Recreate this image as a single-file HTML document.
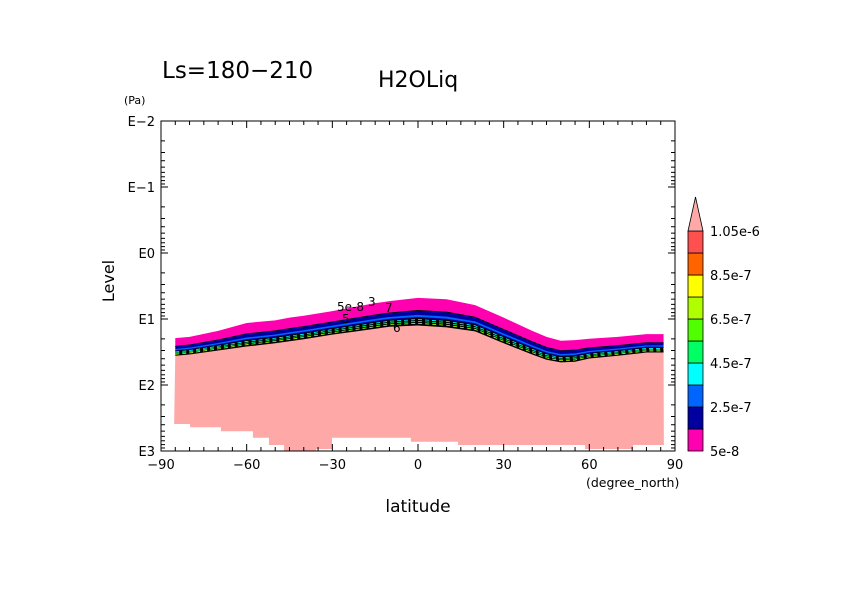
<!DOCTYPE html>
<html><head><meta charset="utf-8"><style>
html,body{margin:0;padding:0;background:#fff;}
svg{display:block;font-family:"DejaVu Sans","Liberation Sans",sans-serif;}
</style></head><body>
<svg id="chart" width="842" height="595" viewBox="0 0 842 595">
<text x="162" y="78" font-size="23">Ls=180−210</text>
<text x="378" y="87" font-size="22">H2OLiq</text>
<text x="124" y="104" font-size="11">(Pa)</text>
<text x="114" y="281" font-size="16" transform="rotate(-90 114 281)" text-anchor="middle">Level</text>
<text x="418" y="512" font-size="17" text-anchor="middle">latitude</text>
<text x="586" y="487" font-size="12.5">(degree_north)</text>
<g id="field"></g>
<g id="axes"></g>
<g id="cbar"></g>
</svg>
<script>
// data (latitude, log10 pressure in Pa)
const lats = [-85,-80,-70,-60,-50,-45,-40,-30,-20,-15,-10,0,10,20,30,40,45,50,55,60,70,80,86];
const cloudTop = [1.29,1.27,1.18,1.06,1.02,0.98,0.95,0.88,0.80,0.76,0.73,0.68,0.70,0.79,0.98,1.18,1.27,1.33,1.32,1.30,1.27,1.23,1.23];
const cloudBase = [1.55,1.53,1.47,1.41,1.36,1.33,1.30,1.23,1.17,1.14,1.11,1.09,1.12,1.18,1.36,1.53,1.61,1.65,1.64,1.59,1.55,1.50,1.50];
const maskEdges = [-85.4,-79.8,-69,-57.8,-52.2,-46.9,-35.7,-30.1,-2.5,14,58.5,75.3,86.1];
const maskBottom = [2.59,2.64,2.70,2.80,2.91,3.0,2.97,2.80,2.86,2.91,2.97,2.91];
const xTicks = [-90,-60,-30,0,30,60,90];
const yTicks = [-2,-1,0,1,2,3];
const yTickLabels = ["E−2","E−1","E0","E1","E2","E3"];
const levelLabels = ["1.05e-6","8.5e-7","6.5e-7","4.5e-7","2.5e-7","5e-8"];
const levelColors = ["#ff00b0","#0000a0","#0064ff","#00ffff","#00ff64","#50ff00","#b0ff00","#ffff00","#ff6400","#ff5050"];

const X0=161,X1=675,Y0=121,Y1=451;
const xs = lat => X0 + (lat+90)/180*(X1-X0);
const ys = lp => Y0 + (lp+2)/5*(Y1-Y0);
const NS="http://www.w3.org/2000/svg";
function mk(tag, attrs, parent){const e=document.createElementNS(NS,tag);for(const k in attrs)e.setAttribute(k,attrs[k]);parent.appendChild(e);return e;}
const field=document.getElementById('field'), axes=document.getElementById('axes'), cbar=document.getElementById('cbar');

let pts=[];
lats.forEach((l,i)=>pts.push(xs(l)+','+ys(cloudBase[i])));
for(let i=maskBottom.length-1;i>=0;i--){pts.push(xs(maskEdges[i+1])+','+ys(maskBottom[i]));pts.push(xs(maskEdges[i])+','+ys(maskBottom[i]));}
let p=mk('polygon',{points:pts.join(' '),fill:'#ffa8a8'},field);



const bands=[[0,0.45,'#ff00b0'],[0.45,0.48,'#000'],[0.48,0.63,'#0000a0'],[0.63,0.7,'#0064ff'],[0.7,0.74,'#0000a0'],[0.74,1.0,'#000']];
bands.forEach((b,bi)=>{
  let pp=[];
  lats.forEach((l,i)=>{const t=cloudTop[i],d=cloudBase[i]-cloudTop[i];pp.push(xs(l)+','+ys(t+d*b[0]));});
  for(let i=lats.length-1;i>=0;i--){const t=cloudTop[i],d=cloudBase[i]-cloudTop[i];pp.push(xs(lats[i])+','+(ys(t+d*b[1])+0.5));}
  const e=mk('polygon',{points:pp.join(' '),fill:b[2]},field);
  
  
});
[[0.8,'#00ffff'],[0.87,'#00ff64'],[0.94,'#b0ff00']].forEach((f,k)=>{
  let d='';
  lats.forEach((l,i)=>{const y=ys(cloudTop[i]+(cloudBase[i]-cloudTop[i])*f[0]);d+=(i?'L':'M')+xs(l)+' '+y;});
  const e=mk('path',{d:d,fill:'none',stroke:f[1],'stroke-width':0.8,'stroke-dasharray':'4 3'},field);
  
  
});
[['5e-8',337,311],['3',368,306],['5',342,323],['7',385,312],['6',393,332]].forEach(l=>{
  const t=mk('text',{x:l[1],y:l[2],'font-size':12,fill:'#000'},field);t.textContent=l[0];
  
  
});

let fr=mk('rect',{x:X0,y:Y0,width:X1-X0,height:Y1-Y0,fill:'none',stroke:'#000','stroke-width':1},axes);


for(let lat=-90;lat<=90;lat+=5){
  const x=xs(lat),L=(lat%30===0)?7:4;
  mk('line',{x1:x,y1:Y1,x2:x,y2:Y1-L,stroke:'#000'},axes);
  mk('line',{x1:x,y1:Y0,x2:x,y2:Y0+L,stroke:'#000'},axes);
}
xTicks.forEach(v=>{const t=mk('text',{x:xs(v),y:Y1+18,'font-size':13,'text-anchor':'middle'},axes);t.textContent=(v<0?'−':'')+Math.abs(v);
  });
for(let e=-2;e<3;e++){for(let m=1;m<10;m++){const lp=e+Math.log10(m),y=ys(lp),L=m===1?7:4;
  mk('line',{x1:X0,y1:y,x2:X0+L,y2:y,stroke:'#000'},axes);mk('line',{x1:X1,y1:y,x2:X1-L,y2:y,stroke:'#000'},axes);}}
yTicks.forEach((v,i)=>{const t=mk('text',{x:X0-6,y:ys(v)+5,'font-size':13,'text-anchor':'end'},axes);t.textContent=yTickLabels[i];
  });

const CX=688,CW=15,CB=451,CH=22;
levelColors.forEach((c,i)=>{const r=mk('rect',{x:CX,y:CB-(i+1)*CH,width:CW,height:CH,fill:c,stroke:'#000','stroke-width':0.8},cbar);
  });
let tri=mk('polygon',{points:`${CX},${CB-10*CH} ${CX+CW},${CB-10*CH} ${CX+CW/2},${CB-10*CH-34}`,fill:'#ffa8a8',stroke:'#000','stroke-width':0.8},cbar);

levelLabels.forEach((s,i)=>{const t=mk('text',{x:710,y:CB-10*CH+i*2*CH+5,'font-size':13},cbar);t.textContent=s;
  });
</script>
</body></html>
